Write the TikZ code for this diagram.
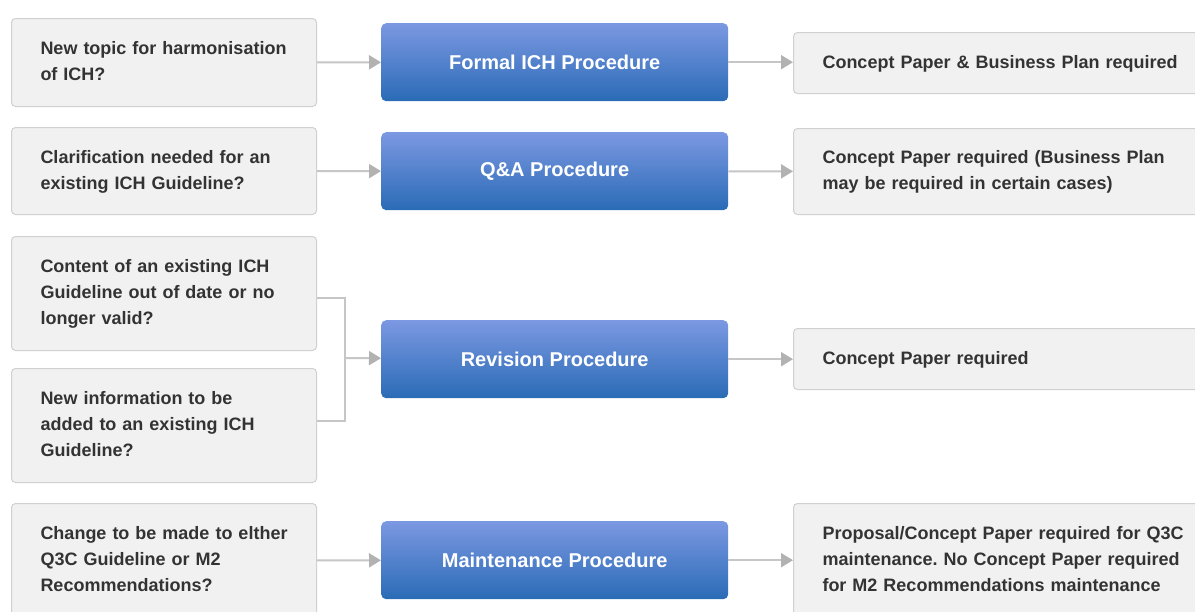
\documentclass[tikz,border=0pt]{standalone}
\usepackage{fontspec}
\setmainfont{Liberation Sans}
\usetikzlibrary{arrows.meta}
\frenchspacing
\definecolor{boxfill}{HTML}{F1F1F1}
\definecolor{boxline}{HTML}{D0D0D0}
\definecolor{txt}{HTML}{333333}
\definecolor{bluetop}{HTML}{7C98E2}
\definecolor{bluebot}{HTML}{2A6BB6}
\definecolor{conn}{HTML}{C6C6C6}
\definecolor{tipc}{HTML}{B2B2B2}
\newcommand{\lines}[1]{\begin{tabular}{@{}l@{}}#1\end{tabular}}
\tikzset{
  qbox/.style={draw=boxline, line width=1pt, fill=boxfill, rounded corners=4pt,
    anchor=north west, inner xsep=29pt, inner ysep=0pt, align=left, text=txt,
    font=\bfseries\fontsize{18pt}{26pt}\selectfont},
  lbox/.style={qbox, text width=247pt},
  rbox/.style={qbox, text width=359pt},
  pbox/.style={rounded corners=5pt, top color=bluetop, bottom color=bluebot, draw=none,
    text=white, font=\bfseries\fontsize{20pt}{24pt}\selectfont,
    minimum width=347pt, minimum height=78pt, anchor=north west, inner sep=0pt},
  link/.style={draw=conn, line width=2pt},
  arr/.style={link, -{Triangle[length=12pt,width=14pt,color=tipc]}},
}
\begin{document}
\begin{tikzpicture}[x=1pt,y=-1pt]
\useasboundingbox[fill=white] (0,0) rectangle (1195,611);
% left question boxes
\node[lbox, minimum height=88pt] (L1) at (11,18) {\lines{New topic for harmonisation\\of ICH?}};
\node[lbox, minimum height=87pt] (L2) at (11,127) {\lines{Clarification needed for an\\existing ICH Guideline?}};
\node[lbox, minimum height=114pt] (L3) at (11,236) {\lines{Content of an existing ICH\\Guideline out of date or no\\longer valid?}};
\node[lbox, minimum height=114pt] (L4) at (11,368) {\lines{New information to be\\added to an existing ICH\\Guideline?}};
\node[lbox, minimum height=114pt] (L5) at (11,503) {\lines{Change to be made to elther\\Q3C Guideline or M2\\Recommendations?}};
% procedure boxes
\node[pbox] (B1) at (381,23) {Formal ICH Procedure};
\node[pbox] (B2) at (381,132) {Q\&A Procedure};
\node[pbox] (B3) at (381,320) {Revision Procedure};
\node[pbox] (B4) at (381,521) {Maintenance Procedure};
% result boxes
\node[rbox, minimum height=61pt] (R1) at (793,32) {\lines{Concept Paper \& Business Plan required}};
\node[rbox, minimum height=86pt] (R2) at (793,128) {\lines{Concept Paper required (Business Plan\\may be required in certain cases)}};
\node[rbox, minimum height=61pt] (R3) at (793,328) {\lines{Concept Paper required}};
\node[rbox, minimum height=114pt] (R4) at (793,503) {\lines{Proposal/Concept Paper required for Q3C\\maintenance. No Concept Paper required\\for M2 Recommendations maintenance}};
% connectors
\draw[arr] (L1) -- (B1);
\draw[arr] (L2) -- (B2);
\draw[arr] (L5) -- (B4);
\draw[arr] (B1) -- (R1.west |- B1.east);
\draw[arr] (B2) -- (R2);
\draw[arr] (B3) -- (R3.west |- B3.east);
\draw[arr] (B4) -- (R4.west |- B4.east);
\coordinate (J) at (345,358);
\draw[link] ([yshift=-4.5pt]L3.east) -| (J) |- ([yshift=5pt]L4.east);
\draw[arr] (J) -- (B3);
\end{tikzpicture}
\end{document}
